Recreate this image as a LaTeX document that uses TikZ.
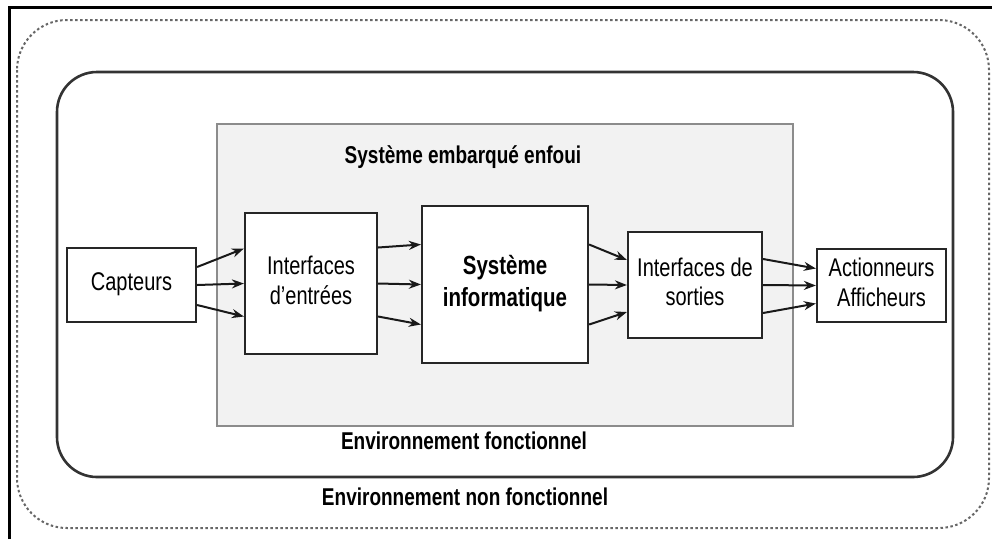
\documentclass[tikz,border=0pt]{standalone}
\usepackage{fontspec}
\setmainfont{Liberation Sans}
\usepackage{graphicx}
\usetikzlibrary{arrows.meta}

% texte etire en hauteur, comme dans la figure d'origine
\newcommand{\haut}[1]{\scalebox{1}[1.28]{\begin{tabular}{@{}c@{}}#1\end{tabular}}}

\tikzset{
    bloc/.style={draw=black!85, line width=2.2pt, fill=white, inner sep=0pt,
                 font=\fontsize{20}{23}\selectfont},
    titre/.style={font=\bfseries\fontsize{19}{22}\selectfont, inner sep=0pt},
    fleche/.style={line width=2pt, black!90, -{Stealth[length=12pt,width=9pt]}}
}

\begin{document}
\begin{tikzpicture}[x=1pt, y=-1pt]
                \useasboundingbox (0, 0) rectangle (992, 539);

                % cadre
                \draw[line width=3pt] (9, 539) -- (9, 7) -- (992, 7);

                % environnements
                \draw[gray!80!black, line width=2pt, dash pattern=on 2.5pt off 2.5pt, rounded corners=50pt]
                    (17, 20) rectangle (989, 528);
                \draw[black!80, line width=2.6pt, rounded corners=40pt] (57, 72) rectangle (953, 477);
                \draw[gray!90, fill=black!5, line width=2pt] (217, 124) rectangle (793, 426);

                \node[titre] (see) at (463, 158) {\haut{Système embarqué enfoui}};
                \node[titre] (ef) at (464, 444) {\haut{Environnement fonctionnel}};
                \node[titre] (enf) at (465, 500) {\haut{Environnement non fonctionnel}};

                % blocs
                \node[bloc, minimum width=129pt, minimum height=74pt] (cap) at (131.5, 285) {\haut{Capteurs}};
                \node[bloc, minimum width=132pt, minimum height=141pt] (ient) at (311, 283.5) {\haut{Interfaces\\d'entrées}};
                \node[bloc, minimum width=166pt, minimum height=157pt, font=\bfseries\fontsize{20.5}{25}\selectfont] (sys) at (505, 284.5) {\haut{Système\\informatique}};
                \node[bloc, minimum width=134pt, minimum height=106pt] (isor) at (695, 285) {\haut{Interfaces de\\sorties}};
                \node[bloc, minimum width=129pt, minimum height=73pt] (act) at (881.5, 285.5) {\haut{Actionneurs\\Afficheurs}};

                % liaisons
                \foreach \a/\b in {18/35, 0/0, -20/-33}
                    \draw[fleche] ([yshift=\a pt]cap.east) -- ([yshift=\b pt]ient.west);
                \foreach \a/\b in {36/40, 0/0, -33/-40}
                    \draw[fleche] ([yshift=\a pt]ient.east) -- ([yshift=\b pt]sys.west);
                \foreach \a/\b in {40/25, 0/0, -40/-27}
                    \draw[fleche] ([yshift=\a pt]sys.east) -- ([yshift=\b pt]isor.west);
                \foreach \a/\b in {26/17, 0/0, -28/-18}
                    \draw[fleche] ([yshift=\a pt]isor.east) -- ([yshift=\b pt]act.west);
            \end{tikzpicture}
\end{document}
